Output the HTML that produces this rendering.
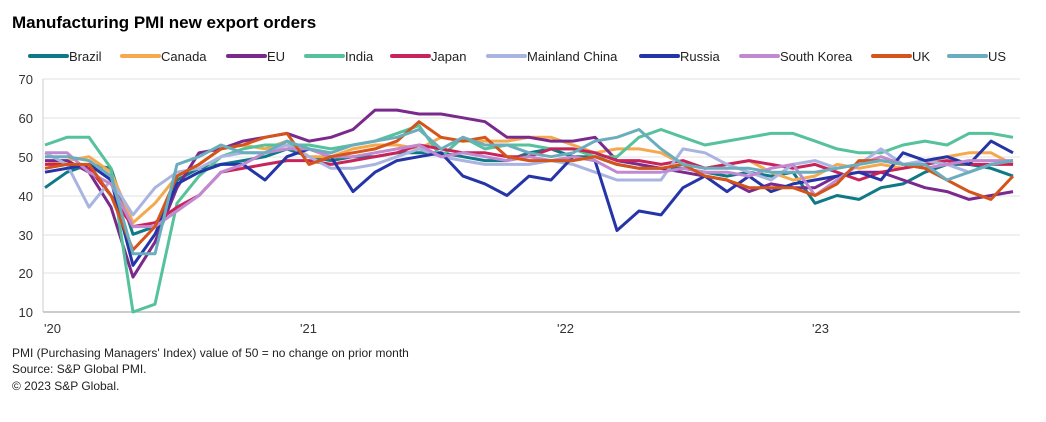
<!DOCTYPE html>
<html><head><meta charset="utf-8"><style>
body{margin:0;background:#fff;width:1046px;height:417px;overflow:hidden;font-family:"Liberation Sans",Arial,sans-serif}
svg text{font-family:"Liberation Sans",Arial,sans-serif}
</style></head><body>
<svg id="c" width="1046" height="417" xmlns="http://www.w3.org/2000/svg">
<text x="12" y="28" font-size="17" font-weight="bold" fill="#000">Manufacturing PMI new export orders</text>
<g font-size="13" fill="#333" text-anchor="end">
<text x="33" y="84">70</text><text x="33" y="123">60</text><text x="33" y="162">50</text><text x="33" y="201">40</text><text x="33" y="240">30</text><text x="33" y="278">20</text><text x="33" y="317">10</text>
</g>
<g stroke="#e2e2e2" stroke-width="1">
<line x1="43" x2="1020" y1="79" y2="79"/><line x1="43" x2="1020" y1="118" y2="118"/><line x1="43" x2="1020" y1="157" y2="157"/><line x1="43" x2="1020" y1="196" y2="196"/><line x1="43" x2="1020" y1="235" y2="235"/><line x1="43" x2="1020" y1="273" y2="273"/>
</g>
<line x1="43" x2="43" y1="79" y2="312" stroke="#ccc"/>
<line x1="43" x2="1020" y1="312" y2="312" stroke="#bbb" stroke-width="1.5"/>
<g font-size="13" fill="#333">
<text x="44" y="333">'20</text><text x="300" y="333">'21</text><text x="557" y="333">'22</text><text x="812" y="333">'23</text>
</g>
<g font-size="12" fill="#222">
<text x="12" y="357">PMI (Purchasing Managers' Index) value of 50 = no change on prior month</text>
<text x="12" y="373">Source: S&amp;P Global PMI.</text>
<text x="12" y="390">© 2023 S&amp;P Global.</text>
</g>
<g id="leg" font-size="13" fill="#222"></g>
<g id="lines" fill="none" stroke-width="3" stroke-linejoin="round"></g>
</svg>
<script>
var S=[
["Brazil","#0e7a86",30,[42,46,48,47,30,32,44,47,48,49,50,52,50,49,50,50,51,51,51,50,49,49,51,52,50,50,48,47,47,47,46,45,46,45,46,38,40,39,42,43,46,48,48,47,45]],
["Canada","#f4a94e",122,[48,49,50,46,33,38,45,48,52,53,52,54,50,50,52,53,53,52,55,54,54,54,55,55,53,51,52,52,51,48,47,48,49,46,44,45,48,47,48,47,48,50,51,51,48]],
["EU","#7a2a8c",228,[49,49,46,37,19,28,42,51,52,54,55,56,54,55,57,62,62,61,61,60,59,55,55,54,54,55,49,48,47,46,45,44,41,43,42,42,45,46,46,44,42,41,39,40,41]],
["India","#55c29b",306,[53,55,55,47,10,12,38,45,50,52,53,53,53,52,53,54,56,58,50,55,52,53,53,52,52,50,50,55,57,55,53,54,55,56,56,54,52,51,51,53,54,53,56,56,55]],
["Japan","#c9245a",392,[48,48,47,40,32,33,37,40,46,47,48,49,49,48,49,50,51,53,52,51,51,50,50,52,52,51,49,49,48,49,47,48,49,48,47,48,46,44,46,47,48,49,48,48,48]],
["Mainland China","#aab4e0",488,[51,48,37,44,35,42,46,47,50,51,51,53,50,47,47,48,50,52,50,49,48,48,48,49,48,46,44,44,44,52,51,48,46,44,48,49,47,48,52,48,49,48,46,48,49]],
["Russia","#2535a8",641,[46,47,48,44,22,30,43,46,48,48,44,50,52,50,41,46,49,50,51,45,43,40,45,44,50,49,31,36,35,42,45,41,45,41,43,44,45,46,44,51,49,50,48,54,51]],
["South Korea","#c18ad0",741,[51,51,46,43,32,32,36,40,46,48,51,52,52,50,50,51,52,53,50,51,50,49,50,49,50,49,46,46,46,47,46,46,45,47,48,40,44,48,50,48,47,48,49,49,49]],
["UK","#d4541a",873,[47,48,48,40,26,32,45,48,52,53,55,56,48,50,51,52,54,59,55,54,55,50,49,49,49,50,48,47,47,48,45,44,42,42,42,40,43,49,49,48,47,44,41,39,45,44]],
["US","#6aaebd",949,[50,50,49,45,25,25,48,50,53,51,51,54,52,51,53,54,55,57,52,55,53,53,51,50,51,54,55,57,52,48,47,47,47,46,46,46,47,48,49,48,48,44,46,48,49]]
];
var ns="http://www.w3.org/2000/svg",L=document.getElementById("lines"),G=document.getElementById("leg");
S.forEach(function(s){
 var d=s[3].slice(0,45).map(function(v,i){return (i?"L":"M")+(45+i*22).toFixed(1)+" "+(312-(v-10)*3.883).toFixed(1)}).join("");
 var p=document.createElementNS(ns,"path");p.setAttribute("d",d);p.setAttribute("stroke",s[1]);L.appendChild(p);
 var l=document.createElementNS(ns,"line");l.setAttribute("x1",s[2]);l.setAttribute("x2",s[2]+37);l.setAttribute("y1",56);l.setAttribute("y2",56);l.setAttribute("stroke",s[1]);l.setAttribute("stroke-width",4);l.setAttribute("stroke-linecap","round");G.appendChild(l);
 var t=document.createElementNS(ns,"text");t.setAttribute("x",s[2]+39);t.setAttribute("y",61);t.textContent=s[0];G.appendChild(t);
});
</script>
</body></html>
